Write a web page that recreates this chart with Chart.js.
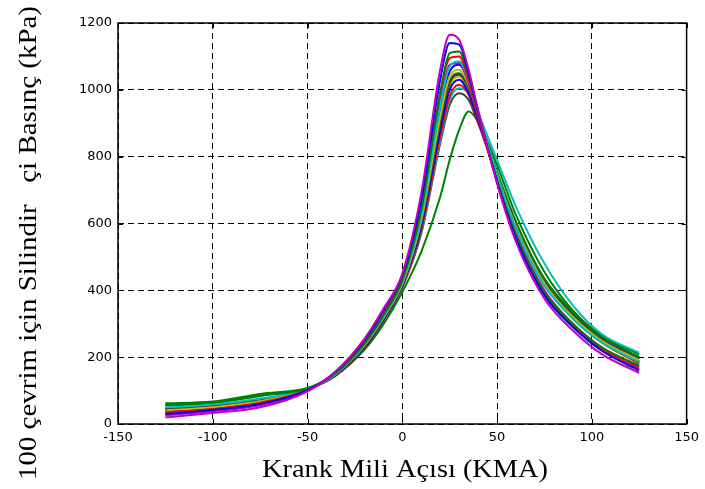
<!DOCTYPE html>
<html>
<head>
<meta charset="utf-8">
<script src="https://cdn.jsdelivr.net/npm/chart.js@4.4.1/dist/chart.umd.min.js"></script>
<style>
    html, body { margin: 0; padding: 0; background: #ffffff; }
    #wrap { width: 705px; height: 489px; }
</style>
</head>
<body>
<div id="wrap"><canvas id="pressureChart" width="705" height="489"></canvas></div>
<script>
// crank angle samples (KMA)
const angles = [-125, -100, -75, -50, -35, -20, -10, 0, 10, 20, 25, 30, 35, 40, 50, 60, 75, 90, 105, 125];

// cylinder pressure (kPa) for a handful of representative cycles
const cycleA = [20, 33, 50, 98, 158, 255, 345, 450, 690, 1060, 1165, 1150, 1060, 940, 720, 545, 375, 280, 210, 153];
const cycleB = [30, 42, 60, 101, 158, 250, 340, 445, 670, 1030, 1140, 1135, 1050, 935, 725, 555, 385, 290, 220, 160];
const cycleC = [58, 64, 86, 106, 152, 240, 325, 430, 640, 990, 1110, 1115, 1040, 930, 730, 565, 395, 300, 230, 175];
const cycleD = [35, 45, 64, 103, 155, 245, 330, 435, 650, 990, 1095, 1100, 1030, 925, 725, 560, 390, 295, 225, 165];
const cycleE = [50, 58, 76, 105, 150, 238, 320, 425, 620, 950, 1070, 1085, 1030, 935, 745, 585, 415, 315, 245, 185];
const cycleF = [26, 38, 56, 100, 154, 242, 328, 430, 635, 965, 1075, 1080, 1020, 920, 730, 570, 400, 300, 230, 170];
const cycleG = [40, 50, 68, 104, 150, 235, 318, 420, 610, 920, 1040, 1060, 1015, 925, 745, 590, 420, 320, 250, 190];
const cycleH = [45, 55, 72, 105, 148, 232, 315, 418, 600, 900, 1020, 1045, 1005, 920, 745, 595, 425, 325, 255, 195];
const cycleI = [38, 48, 66, 103, 147, 230, 312, 415, 590, 880, 1000, 1030, 990, 910, 740, 590, 420, 320, 250, 188];
const cycleJ = [55, 63, 84, 107, 150, 234, 316, 420, 605, 905, 1025, 1050, 1010, 925, 755, 605, 435, 335, 262, 200];
const cycleK = [33, 44, 63, 102, 146, 228, 310, 412, 580, 860, 980, 1015, 985, 905, 735, 585, 415, 318, 245, 182];
const cycleL = [48, 57, 73, 106, 148, 228, 308, 410, 575, 850, 970, 1005, 990, 930, 790, 650, 480, 355, 270, 213];
const cycleM = [42, 52, 70, 104, 145, 225, 305, 408, 570, 840, 955, 990, 970, 900, 750, 600, 430, 330, 258, 195];
const cycleN = [62, 67, 90, 108, 148, 222, 298, 395, 515, 680, 790, 880, 935, 905, 775, 625, 455, 340, 265, 208];
const cycleO = [36, 47, 66, 104, 149, 232, 314, 418, 595, 890, 1010, 1040, 1000, 915, 740, 585, 415, 315, 245, 180];
const cycleP = [47, 56, 72, 105, 149, 236, 320, 422, 615, 935, 1055, 1075, 1025, 930, 745, 585, 415, 318, 248, 185];

const cycles = [cycleA, cycleB, cycleC, cycleD, cycleE, cycleF, cycleG, cycleH,
                cycleI, cycleJ, cycleK, cycleL, cycleM, cycleN, cycleO, cycleP];
const lineColors = ['#c000c0', '#0000ff', '#008000', '#ff0000', '#00bfbf', '#c000c0', '#bfbf00', '#404040',
                    '#0000ff', '#008000', '#ff0000', '#00bfbf', '#404040', '#008000', '#bfbf00', '#0000ff'];

const xTicks = [-150, -100, -50, 0, 50, 100, 150];
const yTicks = [0, 200, 400, 600, 800, 1000, 1200];

const xTitle = 'Krank Mili Açısı (KMA)';
const yTitle = '100 çevrim için Silindir   çi Basınç (kPa)';

// matlab style frame: solid box, short inward ticks, and the two axis titles
const framePlugin = {
    id: 'frame',
    afterDraw(chart) {
        const a = chart.chartArea;
        const c = chart.ctx;
        const xs = chart.scales.x, ys = chart.scales.y;
        c.save();
        c.strokeStyle = '#000';
        c.lineWidth = 1.5;
        c.strokeRect(a.left, a.top, a.right - a.left, a.bottom - a.top);
        c.lineWidth = 1;
        c.beginPath();
        xTicks.forEach(v => {
            const px = Math.round(xs.getPixelForValue(v)) + 0.5;
            c.moveTo(px, a.bottom); c.lineTo(px, a.bottom - 5);
            c.moveTo(px, a.top); c.lineTo(px, a.top + 5);
        });
        yTicks.forEach(v => {
            const py = Math.round(ys.getPixelForValue(v)) + 0.5;
            c.moveTo(a.left, py); c.lineTo(a.left + 5, py);
            c.moveTo(a.right, py); c.lineTo(a.right - 5, py);
        });
        c.stroke();

        c.fillStyle = '#000';
        c.font = '25px "Liberation Serif", "Times New Roman", serif';
        c.textAlign = 'center';
        c.textBaseline = 'alphabetic';

        // x title, a little wider than plain Times as in the source figure
        let w = c.measureText(xTitle).width;
        c.save();
        c.translate(405, 477);
        c.scale(286 / w, 1);
        c.fillText(xTitle, 0, 0);
        c.restore();

        w = c.measureText(yTitle).width;
        c.save();
        c.translate(36, 243);
        c.rotate(-Math.PI / 2);
        c.scale(474 / w, 1);
        c.fillText(yTitle, 0, 0);
        c.restore();
        c.restore();
    }
};

const ctx = document.getElementById('pressureChart').getContext('2d');
new Chart(ctx, {
    type: 'line',
    data: {
        datasets: cycles.map((c, i) => ({
            label: 'cycle ' + (i + 1),
            data: angles.map((a, j) => ({ x: a, y: c[j] })),
            borderColor: lineColors[i],
            borderWidth: 2,
            pointRadius: 0,
            fill: false,
            cubicInterpolationMode: 'monotone'
        }))
    },
    options: {
        responsive: false,
        animation: false,
        layout: { padding: { top: 23, right: 13, left: 0, bottom: 0 } },
        plugins: {
            legend: { display: false },
            tooltip: { enabled: false }
        },
        scales: {
            x: {
                type: 'linear',
                min: -150,
                max: 150,
                afterBuildTicks: s => { s.ticks = xTicks.map(v => ({ value: v })); },
                afterFit: s => { s.height = 65; },
                grid: { color: '#000', lineWidth: 1, drawTicks: false },
                border: { display: false, dash: [6, 4] },
                ticks: {
                    color: '#000',
                    font: { family: 'DejaVu Sans', size: 13 },
                    padding: 6,
                    maxRotation: 0,
                    callback: v => String(v)
                }
            },
            y: {
                min: 0,
                max: 1200,
                afterBuildTicks: s => { s.ticks = yTicks.map(v => ({ value: v })); },
                afterFit: s => { s.width = 118; },
                grid: { color: '#000', lineWidth: 1, drawTicks: false },
                border: { display: false, dash: [6, 4] },
                ticks: {
                    color: '#000',
                    font: { family: 'DejaVu Sans', size: 13 },
                    padding: 6,
                    callback: v => String(v)
                }
            }
        }
    },
    plugins: [framePlugin]
});
</script>
</body>
</html>
